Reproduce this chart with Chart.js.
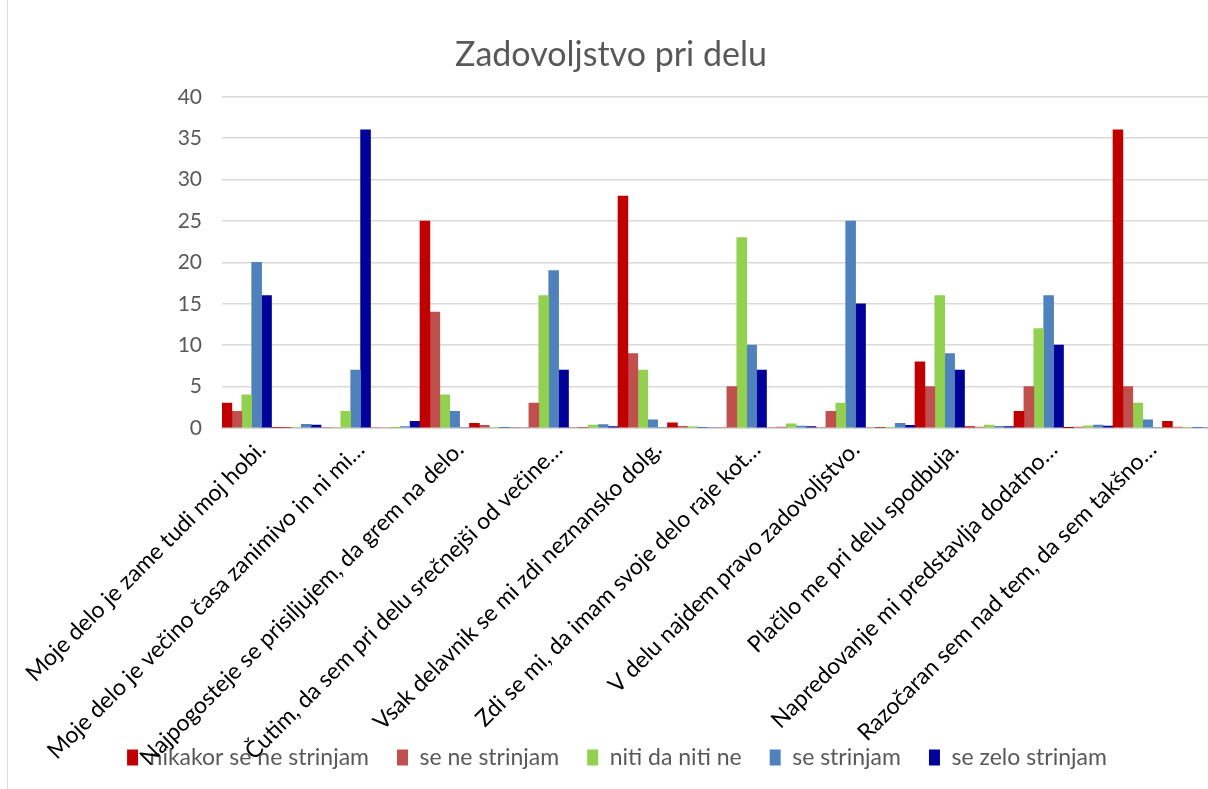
<!DOCTYPE html>
<html>
<head>
<meta charset="utf-8">
<title>Zadovoljstvo pri delu</title>
<script src="https://cdn.jsdelivr.net/npm/chart.js@4/dist/chart.umd.min.js"></script>
<style>
  html, body { margin: 0; padding: 0; background: #fff; overflow: hidden; }
  #frame { position: absolute; left: 7px; top: -2px; width: 1280px; height: 840px; border: 1px solid #d9d9d9; }
  #wrap { position: absolute; left: 0; top: 0; width: 1250px; height: 789px; }
</style>
</head>
<body>
<div id="frame"></div>
<div id="wrap"><canvas id="chart"></canvas></div>
<script>
// vsaka trditev ima za seboj še vrstico z deleži (brez oznake)
const categories = [
  'Moje delo je zame tudi moj hobi.', '',
  'Moje delo je večino časa zanimivo in ni mi…', '',
  'Najpogosteje se prisiljujem, da grem na delo.', '',
  'Čutim, da sem pri delu srečnejši od večine…', '',
  'Vsak delavnik se mi zdi neznansko dolg.', '',
  'Zdi se mi, da imam svoje delo raje kot…', '',
  'V delu najdem pravo zadovoljstvo.', '',
  'Plačilo me pri delu spodbuja.', '',
  'Napredovanje mi predstavlja dodatno…', '',
  'Razočaran sem nad tem, da sem takšno…', ''
];

const seriesNames = ['nikakor se ne strinjam', 'se ne strinjam', 'niti da niti ne', 'se strinjam', 'se zelo strinjam'];

const nikakor   = [3, 0.07, 0, 0, 25, 0.56, 0, 0, 28, 0.62, 0, 0, 0, 0, 8, 0.18, 2, 0.04, 36, 0.8];
const seNe      = [2, 0.04, 0, 0, 14, 0.31, 3, 0.07, 9, 0.2, 5, 0.11, 2, 0.04, 5, 0.11, 5, 0.11, 5, 0.11];
const niti      = [4, 0.09, 2, 0.04, 4, 0.09, 16, 0.36, 7, 0.16, 23, 0.51, 3, 0.07, 16, 0.36, 12, 0.27, 3, 0.07];
const seStrinja = [20, 0.44, 7, 0.16, 2, 0.04, 19, 0.42, 1, 0.02, 10, 0.22, 25, 0.56, 9, 0.2, 16, 0.36, 1, 0.02];
const seZelo    = [16, 0.36, 36, 0.8, 0, 0, 7, 0.16, 0, 0, 7, 0.16, 15, 0.33, 7, 0.16, 10, 0.22, 0, 0];

const yTicks = [0, 5, 10, 15, 20, 25, 30, 35, 40];

const colors = ['#C00000', '#C0504D', '#92D050', '#4F81BD', '#00009A'];
const values = [nikakor, seNe, niti, seStrinja, seZelo];

const FONT = 'Lato, "Open Sans", sans-serif';

// legenda malo bolj desno, kot v Excelu
const shiftLegend = {
  id: 'shiftLegend',
  afterLayout(chart) {
    chart.legend.left += 6;
    chart.legend.right += 6;
  }
};

new Chart(document.getElementById('chart'), {
  type: 'bar',
  data: {
    labels: categories,
    datasets: values.map((v, i) => ({
      label: seriesNames[i],
      data: v,
      backgroundColor: colors[i],
      borderWidth: 0,
      barPercentage: 1,
      categoryPercentage: 1
    }))
  },
  plugins: [shiftLegend],
  options: {
    responsive: true,
    maintainAspectRatio: false,
    animation: false,
    layout: { padding: { left: 10, right: 38, top: 0, bottom: 10 } },
    plugins: {
      tooltip: { enabled: false },
      title: {
        display: true,
        text: 'Zadovoljstvo pri delu',
        color: '#595959',
        font: { family: FONT, size: 34, weight: 'normal' },
        padding: { top: 35, bottom: 21 }
      },
      legend: {
        position: 'bottom',
        labels: {
          color: '#595959',
          font: { family: FONT, size: 23 },
          boxWidth: 11,
          boxHeight: 16,
          padding: 28
        }
      }
    },
    scales: {
      x: {
        grid: { display: false },
        border: { color: '#d9d9d9', width: 2 },
        ticks: {
          autoSkip: false,
          minRotation: 45,
          maxRotation: 45,
          labelOffset: 15,
          padding: 0,
          color: '#000',
          font: { family: FONT, size: 23 }
        },
        afterFit: s => {
          s.height = 290;
          s.paddingLeft = 0;
          s.paddingRight = 0;
          // napisi segajo čez legendo, zato brez obrezovanja
          s._computeLabelArea = () => null;
        }
      },
      y: {
        min: 0,
        max: 40,
        afterBuildTicks: s => { s.ticks = yTicks.map(v => ({ value: v })); },
        grid: { color: '#d9d9d9', lineWidth: 1.5, drawTicks: false },
        border: { display: false },
        ticks: {
          color: '#595959',
          padding: 20,
          font: { family: FONT, size: 21 }
        },
        afterFit: s => { s.width = 212; }
      }
    }
  }
});
</script>
</body>
</html>
